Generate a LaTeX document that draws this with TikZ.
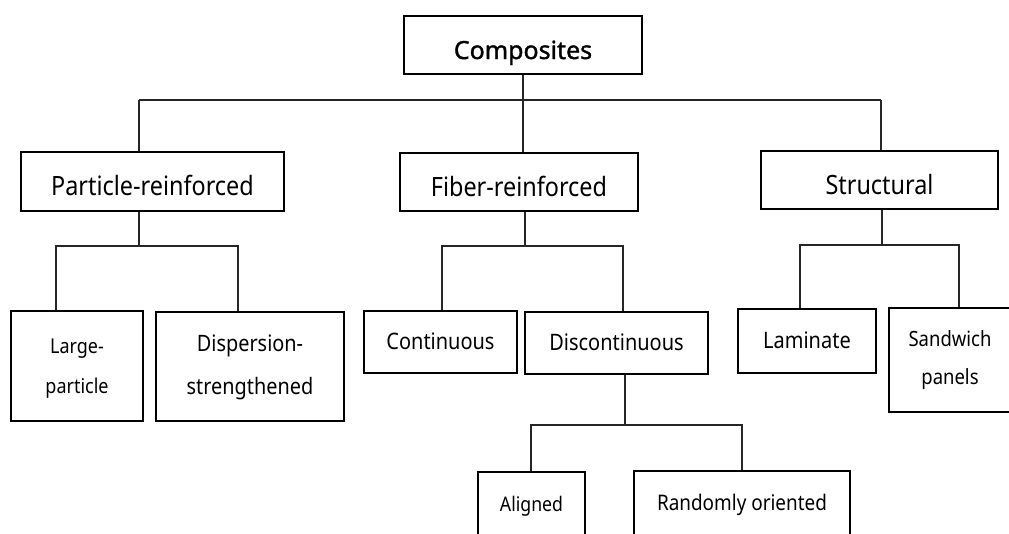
\documentclass[tikz,border=0pt]{standalone}
\usepackage{fontspec}
\setmainfont{Noto Sans}
\newfontfamily\narrowfont[FakeStretch=0.88]{Noto Sans}
\newfontfamily\headfont[FakeBold=1.3]{Noto Sans}
\begin{document}
\begin{tikzpicture}[x=1pt,y=-1pt,
  box/.style={draw=black, fill=white, line width=2.4pt, rectangle, inner sep=0pt, align=center},
  link/.style={draw=black!85, line width=1.2pt},
  topfont/.style={font=\headfont\fontsize{25}{28}\selectfont, text height=28pt, text depth=0pt},
  midfont/.style={font=\narrowfont\fontsize{26.6}{30}\selectfont, text height=28pt, text depth=0pt},
  subfont/.style={font=\narrowfont\fontsize{22.7}{26}\selectfont, text height=14pt, text depth=0pt},
  botfont/.style={font=\narrowfont\fontsize{#1}{24}\selectfont, text height=13pt, text depth=0pt}]
\useasboundingbox (0,0) rectangle (1009,533);

% junction coordinates
\coordinate (pA) at (139,100);
\coordinate (sA) at (881,100);
\coordinate (pB) at (139,246);
\coordinate (lA) at (56,246);
\coordinate (dA) at (238,246);
\coordinate (fB) at (525,246);
\coordinate (cA) at (442,246);
\coordinate (dcA) at (623,246);
\coordinate (dB) at (625,425);
\coordinate (aA) at (531,425);
\coordinate (rA) at (742,425);
\coordinate (sB) at (882,245);
\coordinate (laA) at (800,245);
\coordinate (saA) at (959,245);

% boxes
\node[box, topfont, minimum width=237.5pt, minimum height=57.5pt] (comp) at (523,45) {Composites};
\node[box, midfont, minimum width=262.5pt, minimum height=58.5pt] (part) at (152.5,181.5) {Particle-reinforced};
\node[box, midfont, minimum width=237.5pt, minimum height=57.5pt] (fiber) at (519,182) {Fiber-reinforced};
\node[box, midfont, minimum width=236.5pt, minimum height=57.5pt] (struct) at (879.5,180) {Structural};

\node[box, font=\narrowfont\fontsize{20.4}{40}\selectfont, text height=54pt, text depth=0pt,
      minimum width=131.5pt, minimum height=109.5pt] (large) at (77,366) {Large-\\particle};
\node[box, font=\narrowfont\fontsize{22.6}{42.6}\selectfont, text height=55.6pt, text depth=0pt,
      minimum width=187.5pt, minimum height=108.5pt] (disp) at (250,366.5) {Dispersion-\\strengthened};
\node[box, subfont, minimum width=152.5pt, minimum height=61.5pt] (cont) at (440.5,342) {Continuous};
\node[box, subfont, minimum width=182.5pt, minimum height=61.5pt] (disc) at (616.5,343) {Discontinuous};
\node[box, subfont, minimum width=137.5pt, minimum height=63.5pt] (lam) at (807,341) {Laminate};
\node[box, font=\narrowfont\fontsize{21}{37.6}\selectfont, text height=48.6pt, text depth=0pt,
      minimum width=121.5pt, minimum height=103.5pt] (sand) at (950,360) {Sandwich\\panels};

\node[box, botfont=20.1, minimum width=106.5pt, minimum height=66pt] (algn) at (531.5,505) {Aligned};
\node[box, botfont=21.5, minimum width=215.5pt, minimum height=66pt] (rand) at (742,504) {Randomly oriented};

% connectors
\draw[link] (pA) -- (sA);
\draw[link] (pA) -- (pA |- part.north);
\draw[link] (sA) -- (sA |- struct.north);
\draw[link] (comp.south) -- (comp.south |- fiber.north);

\draw[link] (pB |- part.south) -- (pB);
\draw[link] (lA |- large.north) -- (lA) -- (dA) -- (dA |- disp.north);

\draw[link] (fB |- fiber.south) -- (fB);
\draw[link] (cA |- cont.north) -- (cA) -- (dcA) -- (dcA |- disc.north);

\draw[link] (dB |- disc.south) -- (dB);
\draw[link] (aA |- algn.north) -- (aA) -- (rA) -- (rA |- rand.north);

\draw[link] (sB |- struct.south) -- (sB);
\draw[link] (laA |- lam.north) -- (laA) -- (saA) -- (saA |- sand.north);
\end{tikzpicture}
\end{document}
